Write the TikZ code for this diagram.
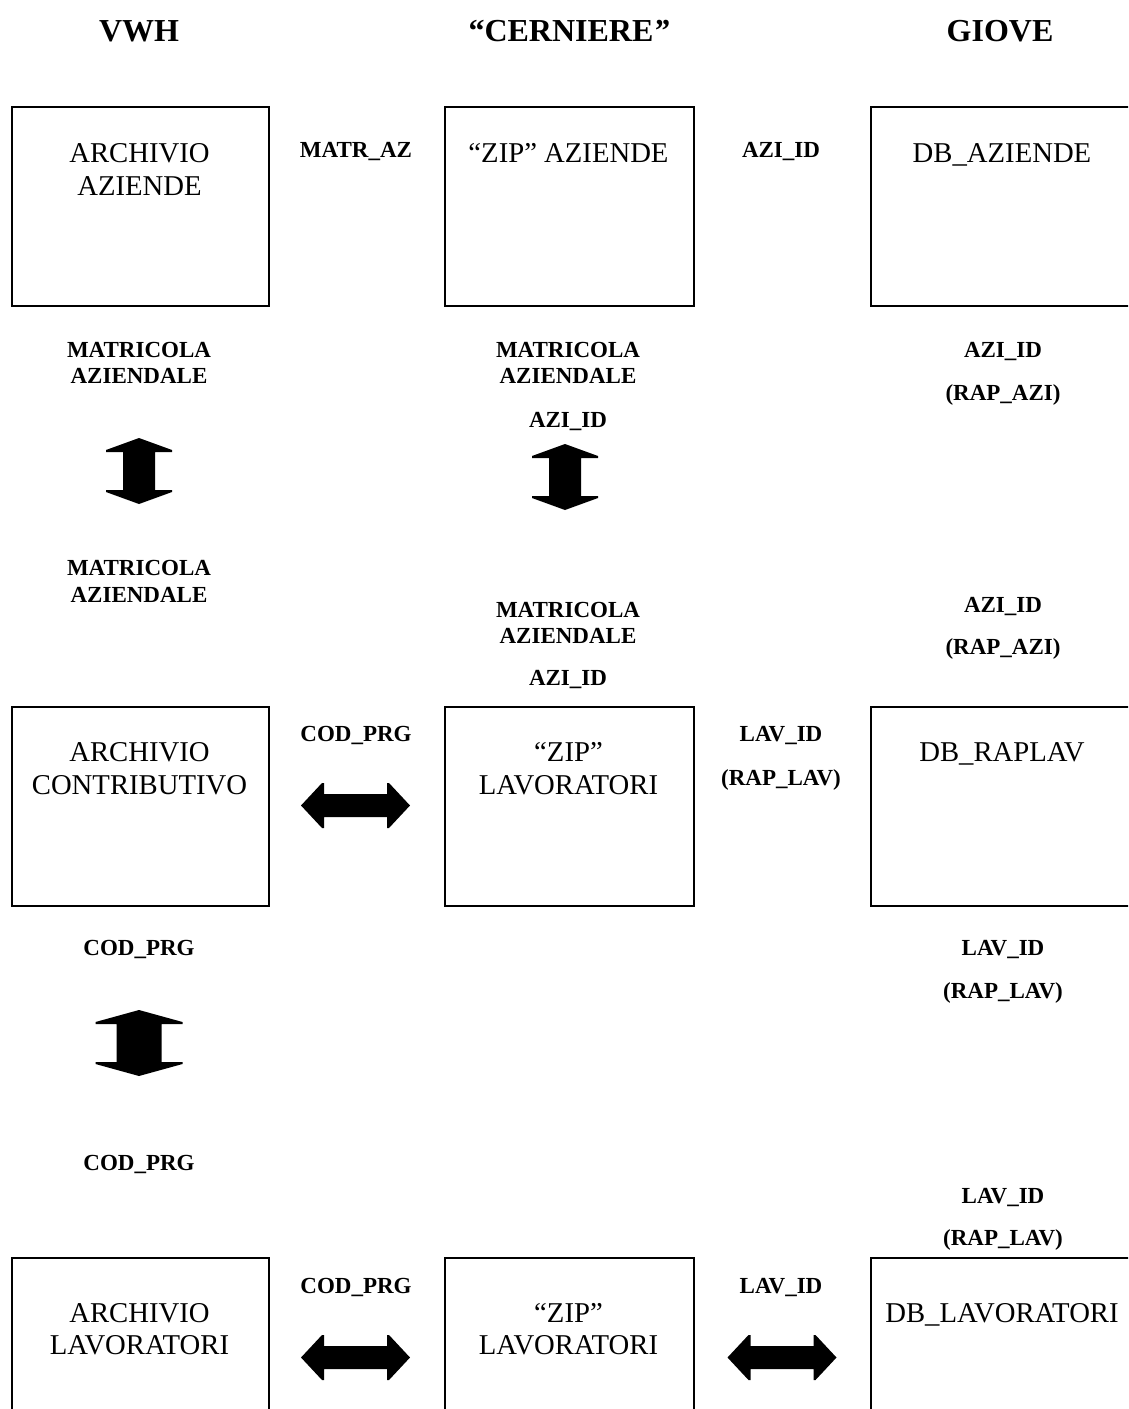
\documentclass[tikz,border=0pt]{standalone}
\usepackage{fontspec}
\setmainfont{Liberation Serif}
\begin{document}
\begin{tikzpicture}[x=1pt,y=-1pt,
  boxst/.style={draw=black,line width=2.1pt,minimum height=199pt,inner sep=0pt,anchor=north west},
  boxtxt/.style={font=\fontsize{28.7}{33}\selectfont,anchor=base,inner sep=0pt},
  lbl/.style={font=\fontsize{23}{27}\selectfont\bfseries,anchor=base,inner sep=0pt},
  hdr/.style={font=\fontsize{32}{36}\selectfont\bfseries,anchor=base,inner sep=0pt},
  pics/blockarrow/.style n args={4}{code={
    \fill[black] (0,-#1) -- (#3,-#1+#2-2) -- (#3,-#1+#2) -- (#4,-#1+#2) -- (#4,#1-#2)
      -- (#3,#1-#2) -- (#3,#1-#2+2) -- (0,#1) -- (-#3,#1-#2+2) -- (-#3,#1-#2)
      -- (-#4,#1-#2) -- (-#4,-#1+#2) -- (-#3,-#1+#2) -- (-#3,-#1+#2-2) -- cycle;
  }}
]
\useasboundingbox (0,0) rectangle (1128,1409);
\clip (0,0) rectangle (1128,1409);

% headers
\node[hdr] (h1) at (139,41) {VWH};
\node[hdr] (h2) at (569,41) {“CERNIERE\textit{”}};
\node[hdr] (h3) at (1000,41) {GIOVE};

% row 1 boxes
\node[boxst,minimum width=257pt] (b11) at (11,106) {};
\node[boxst,minimum width=249pt] (b12) at (444,106) {};
\node[boxst,minimum width=265pt] (b13) at (870,106) {};
\node[boxtxt] (t11a) at (139.5,162) {ARCHIVIO};
\node[boxtxt] (t11b) at (139.5,195) {AZIENDE};
\node[boxtxt] (t12) at (568.5,162) {“ZIP” AZIENDE};
\node[boxtxt] (t13) at (1002,162) {DB\_AZIENDE};
\node[lbl] (l1a) at (356,157) {MATR\_AZ};
\node[lbl] (l1b) at (781,157) {AZI\_ID};

% between rows 1 and 2
\node[lbl] (m1) at (139,357) {MATRICOLA};
\node[lbl] (m2) at (139,383) {AZIENDALE};
\node[lbl] (m3) at (568,357) {MATRICOLA};
\node[lbl] (m4) at (568,383) {AZIENDALE};
\node[lbl] (m5) at (568,427) {AZI\_ID};
\node[lbl] (m6) at (1003,357) {AZI\_ID};
\node[lbl] (m7) at (1003,400) {(RAP\_AZI)};
\node[lbl] (m8) at (139,575) {MATRICOLA};
\node[lbl] (m9) at (139,602) {AZIENDALE};
\node[lbl] (m10) at (568,617) {MATRICOLA};
\node[lbl] (m11) at (568,643) {AZIENDALE};
\node[lbl] (m12) at (568,685) {AZI\_ID};
\node[lbl] (m13) at (1003,612) {AZI\_ID};
\node[lbl] (m14) at (1003,654) {(RAP\_AZI)};
\pic at (139,471) {blockarrow={33}{14}{33}{16}};
\pic at (565,477) {blockarrow={33}{14}{33}{16}};

% row 2 boxes
\node[boxst,minimum width=257pt] (b21) at (11,705.5) {};
\node[boxst,minimum width=249pt] (b22) at (444,705.5) {};
\node[boxst,minimum width=265pt] (b23) at (870,705.5) {};
\node[boxtxt] (t21a) at (139.5,761) {ARCHIVIO};
\node[boxtxt] (t21b) at (139.5,794) {CONTRIBUTIVO};
\node[boxtxt] (t22a) at (568.5,761) {“ZIP”};
\node[boxtxt] (t22b) at (568.5,794) {LAVORATORI};
\node[boxtxt] (t23) at (1002,761) {DB\_RAPLAV};
\node[lbl] (l2a) at (356,741) {COD\_PRG};
\node[lbl] (l2b) at (781,741) {LAV\_ID};
\node[lbl] (l2c) at (781,785) {(RAP\_LAV)};
\pic[rotate=90] at (355.5,805.5) {blockarrow={54.5}{23}{22.5}{11.5}};

% between rows 2 and 3
\node[lbl] (n1) at (139,955) {COD\_PRG};
\node[lbl] (n2) at (139,1170) {COD\_PRG};
\node[lbl] (n3) at (1003,955) {LAV\_ID};
\node[lbl] (n4) at (1003,998) {(RAP\_LAV)};
\node[lbl] (n5) at (1003,1203) {LAV\_ID};
\node[lbl] (n6) at (1003,1245) {(RAP\_LAV)};
\pic at (139,1043) {blockarrow={33}{14}{43.5}{22.5}};

% row 3 boxes
\node[boxst,minimum width=257pt] (b31) at (11,1257) {};
\node[boxst,minimum width=249pt] (b32) at (444,1257) {};
\node[boxst,minimum width=265pt] (b33) at (870,1257) {};
\node[boxtxt] (t31a) at (139.5,1322) {ARCHIVIO};
\node[boxtxt] (t31b) at (139.5,1354) {LAVORATORI};
\node[boxtxt] (t32a) at (568.5,1322) {“ZIP”};
\node[boxtxt] (t32b) at (568.5,1354) {LAVORATORI};
\node[boxtxt] (t33) at (1002,1322) {DB\_LAVORATORI};
\node[lbl] (l3a) at (356,1293) {COD\_PRG};
\node[lbl] (l3b) at (781,1293) {LAV\_ID};
\pic[rotate=90] at (355.5,1357.5) {blockarrow={54.5}{23}{22.5}{11.5}};
\pic[rotate=90] at (782,1357.5) {blockarrow={54.5}{23}{22.5}{11.5}};
\end{tikzpicture}
\end{document}
